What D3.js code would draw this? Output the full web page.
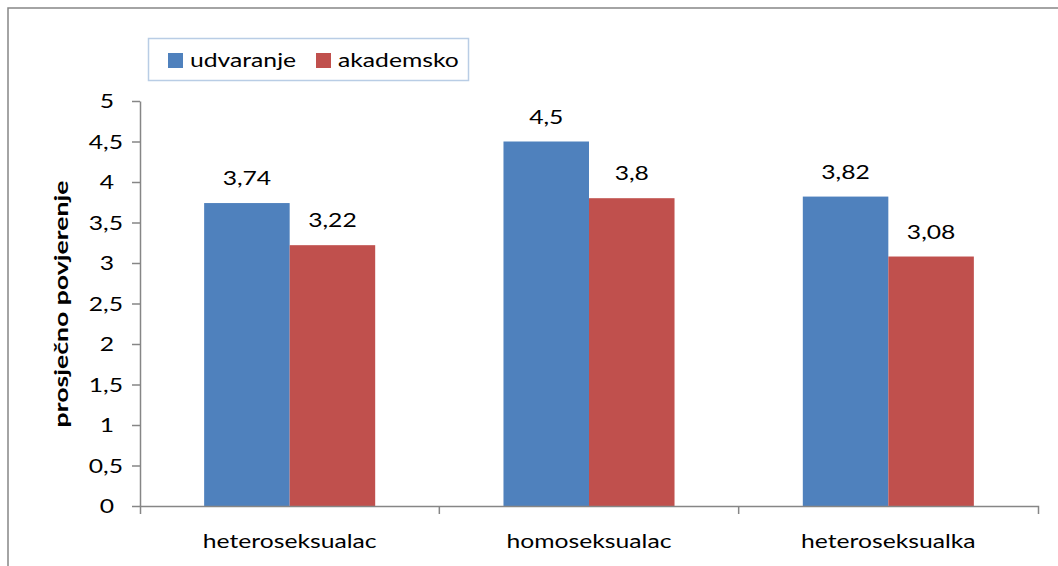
<!DOCTYPE html>
<html>
<head>
<meta charset="utf-8">
<script src="https://cdn.jsdelivr.net/npm/d3@7"></script>
<style>
  body { margin: 0; background: #fff; }
  svg { display: block; }
</style>
</head>
<body>
<script>
// data
const categories = ["heteroseksualac", "homoseksualac", "heteroseksualka"];
const series = ["udvaranje", "akademsko"];
const udvaranje = [3.74, 4.5, 3.82];
const akademsko = [3.22, 3.8, 3.08];
const yTicks = [0, 0.5, 1, 1.5, 2, 2.5, 3, 3.5, 4, 4.5, 5];
const yTitle = "prosječno povjerenje";

const colors = ["#4F81BD", "#C0504D"];
const values = [udvaranje, akademsko];
const rows = categories.map((c, i) => ({
	category: c,
	bars: series.map((s, j) => ({ key: s, value: values[j][i], color: colors[j] }))
}));

const width = 1058, height = 566;
const font = "Lato, 'Open Sans', sans-serif";
const fontSize = 19;
const sx = 1.3; // reference glyphs are wide, stretch along the reading direction
const comma = (d) => String(d).replace(".", ",");

const svg = d3.select("body").append("svg")
	.attr("width", width)
	.attr("height", height)
	.attr("viewBox", [0, 0, width, height]);

// outer chart border (runs off the right and bottom edge)
svg.append("rect")
	.attr("x", 8).attr("y", 8)
	.attr("width", width).attr("height", height)
	.attr("fill", "none")
	.attr("stroke", "#868686")
	.attr("stroke-width", 1.5);

const x = d3.scaleBand().domain(categories).range([140, 1038]).paddingInner(0).paddingOuter(0);
const x1 = d3.scaleBand().domain(series).range([0, x.bandwidth()]).paddingInner(0).paddingOuter(0.75);
const y = d3.scaleLinear().domain([0, 5]).range([506, 101]);

// bars
const groups = svg.append("g")
	.selectAll("g")
	.data(rows)
	.join("g")
	.attr("transform", (d) => `translate(${x(d.category)},0)`);

groups.selectAll("rect")
	.data((d) => d.bars)
	.join("rect")
	.attr("x", (d) => x1(d.key))
	.attr("y", (d) => y(d.value))
	.attr("width", x1.bandwidth())
	.attr("height", (d) => y(0) - y(d.value))
	.attr("fill", (d) => d.color);

// data labels
groups.selectAll("text")
	.data((d) => d.bars)
	.join("text")
	.attr("transform", (d) => `translate(${x1(d.key) + x1.bandwidth() / 2},${y(d.value) - 18}) scale(${sx},1)`)
	.attr("text-anchor", "middle")
	.attr("font-family", font)
	.attr("font-size", fontSize)
	.attr("fill", "#000")
	.text((d) => comma(d.value));

// y axis
svg.append("g")
	.attr("transform", "translate(140,0)")
	.call(d3.axisLeft(y).tickValues(yTicks).tickSize(8).tickSizeOuter(0).tickFormat(comma))
	.call((g) => g.selectAll("path, line").attr("stroke", "#868686").attr("stroke-width", 1.5))
	.call((g) => g.selectAll("text")
		.attr("font-family", font)
		.attr("font-size", fontSize)
		.attr("fill", "#000")
		.attr("text-anchor", "end")
		.attr("x", (d) => (Number.isInteger(d) ? -26 : -17) / sx)
		.attr("dy", "0.36em")
		.attr("transform", `scale(${sx},1)`));

// x axis
svg.append("g")
	.attr("transform", `translate(0,${y(0)})`)
	.call(d3.axisBottom(x).tickSize(0).tickSizeOuter(8))
	.call((g) => g.select(".domain").attr("stroke", "#868686").attr("stroke-width", 1.5))
	.call((g) => g.selectAll(".tick text")
		.attr("font-family", font)
		.attr("font-size", fontSize)
		.attr("fill", "#000")
		.attr("y", 0)
		.attr("dy", 0)
		.attr("transform", `translate(0,42) scale(${sx},1)`))
	.call((g) => g.selectAll(".sep")
		.data(categories.slice(1))
		.join("line")
		.attr("class", "sep")
		.attr("x1", (d) => x(d)).attr("x2", (d) => x(d))
		.attr("y1", 0).attr("y2", 8)
		.attr("stroke", "#868686")
		.attr("stroke-width", 1.5));

// y title
svg.append("text")
	.attr("transform", `translate(68,304) rotate(-90) scale(1.4,1)`)
	.attr("text-anchor", "middle")
	.attr("font-family", font)
	.attr("font-size", fontSize)
	.attr("font-weight", "bold")
	.text(yTitle);

// legend
const legend = svg.append("g");
legend.append("rect")
	.attr("x", 148.5).attr("y", 38.5)
	.attr("width", 320).attr("height", 42)
	.attr("fill", "#fff")
	.attr("stroke", "#B9CDE5")
	.attr("stroke-width", 1.5);

const legendX = [168, 316];
const items = legend.selectAll("g")
	.data(series)
	.join("g")
	.attr("transform", (d, i) => `translate(${legendX[i]},0)`);
items.append("rect")
	.attr("x", 0).attr("y", 53)
	.attr("width", 15).attr("height", 15)
	.attr("fill", (d, i) => colors[i]);
items.append("text")
	.attr("transform", `translate(22,67) scale(${sx},1)`)
	.attr("font-family", font)
	.attr("font-size", fontSize)
	.attr("fill", "#000")
	.text((d) => d);
</script>
</body>
</html>
